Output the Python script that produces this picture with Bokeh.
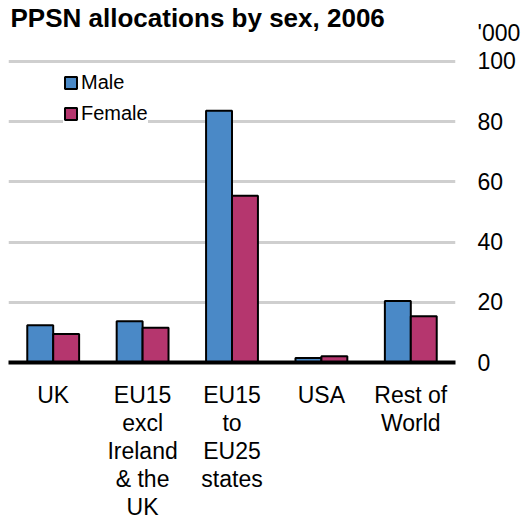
from bokeh.plotting import figure
from bokeh.models import (ColumnDataSource, FactorRange, Range1d,
                          Legend, LegendItem, FixedTicker)
from bokeh.transform import dodge
from bokeh.embed import file_html
from bokeh.resources import INLINE

categories = ["UK", "EU15\nexcl\nIreland\n& the\nUK", "EU15\nto\nEU25\nstates", "USA", "Rest of\nWorld"]
male = [12.4, 13.7, 83.6, 1.5, 20.4]
female = [9.5, 11.5, 55.4, 2.1, 15.4]
grid_ticks = [0, 20, 40, 60, 80, 100]
Y_TOP = 109.6          # top of the value axis; carries the "'000" unit label
unit_text = "'000"

FONT = "Liberation Sans"
BLUE = "#4A89C7"
MAGENTA = "#B5366E"

src = ColumnDataSource(dict(cat=categories, male=male, female=female))

p = figure(x_range=FactorRange(*categories, range_padding=0),
           y_range=Range1d(0, Y_TOP),
           width=523, height=522, output_backend="svg", toolbar_location=None,
           y_axis_location="right",
           min_border_left=8, min_border_right=66, min_border_top=32,
           min_border_bottom=160)

p.title.text = "PPSN allocations by sex, 2006"
p.title.text_font = FONT
p.title.text_font_size = "26px"
p.title.text_font_style = "bold"
p.title.text_color = "black"
p.title.offset = 2
p.title.standoff = 0

r_m = p.vbar(x=dodge("cat", -0.145, range=p.x_range), top="male", width=0.29,
             source=src, fill_color=BLUE, line_color="black", line_width=2)
r_f = p.vbar(x=dodge("cat", 0.145, range=p.x_range), top="female", width=0.29,
             source=src, fill_color=MAGENTA, line_color="black", line_width=2)

legend = Legend(items=[LegendItem(label="Male", renderers=[r_m]),
                       LegendItem(label="Female", renderers=[r_f])],
                location=(55, 237), orientation="vertical",
                label_text_font=FONT, label_text_font_size="20px",
                label_text_color="black",
                glyph_width=15, glyph_height=15, label_height=22,
                label_standoff=3, spacing=8, padding=8, margin=0,
                border_line_color=None, background_fill_color="white",
                background_fill_alpha=1.0)
p.add_layout(legend, "center")

# grid
p.xgrid.grid_line_color = None
p.ygrid.ticker = FixedTicker(ticks=grid_ticks)
p.ygrid.grid_line_color = "#cfcfcf"
p.ygrid.grid_line_width = 3
p.outline_line_color = None

# x axis
xa = p.xaxis[0]
xa.axis_line_color = "black"
xa.axis_line_width = 4
xa.major_tick_line_color = None
xa.major_tick_out = 0
xa.major_tick_in = 0
xa.minor_tick_line_color = None
xa.major_label_text_font = FONT
xa.major_label_text_font_size = "23px"
xa.major_label_text_line_height = 1.08
xa.major_label_text_color = "black"
xa.major_label_standoff = 19

# y axis (right)
ya = p.yaxis[0]
ya.ticker = FixedTicker(ticks=grid_ticks + [Y_TOP])
ya.major_label_overrides = {Y_TOP: unit_text}
ya.axis_line_color = None
ya.major_tick_line_color = None
ya.major_tick_out = 0
ya.major_tick_in = 0
ya.minor_tick_line_color = None
ya.major_label_text_font = FONT
ya.major_label_text_font_size = "23px"
ya.major_label_text_color = "black"
ya.major_label_standoff = 22

open("out.html", "w").write(file_html(p, INLINE))
